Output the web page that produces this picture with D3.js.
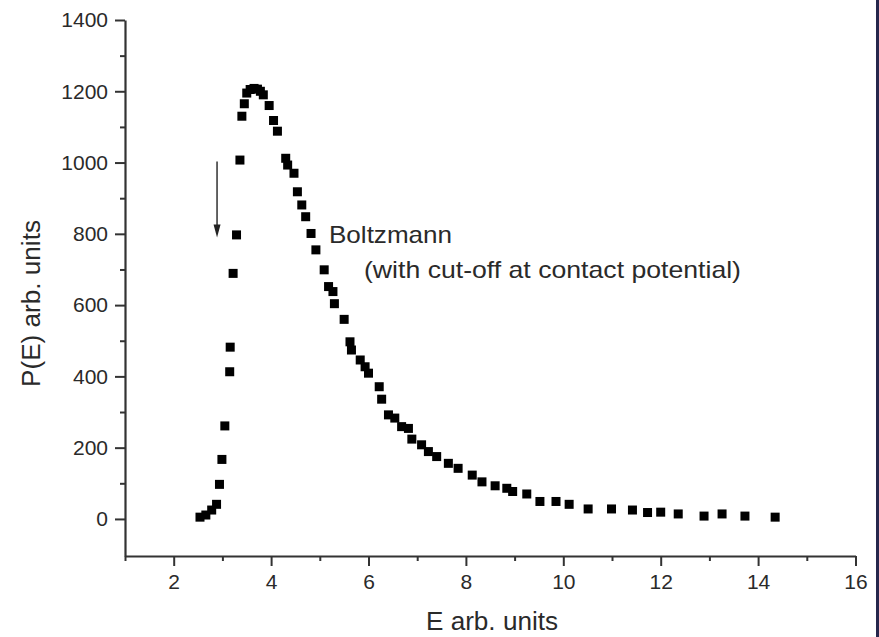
<!DOCTYPE html>
<html>
<head>
<meta charset="utf-8">
<script src="https://cdn.jsdelivr.net/npm/d3@7"></script>
<style>
  html, body { margin: 0; padding: 0; background: #ffffff; }
  svg { display: block; }
  text { font-family: "Liberation Sans", Arial, sans-serif; fill: #2a2a2a; }
</style>
</head>
<body>
<svg id="chart" width="879" height="637"></svg>
<script>
// Energy distribution samples (E, P(E)) in arbitrary units
const energy = [
  2.54, 2.66, 2.78, 2.88, 2.94, 2.99, 3.05, 3.15, 3.16, 3.22, 3.29, 3.36,
  3.40, 3.45, 3.50, 3.57, 3.65, 3.72, 3.78, 3.84, 3.96, 4.05, 4.13,
  4.30, 4.34, 4.47, 4.54, 4.63, 4.71, 4.82, 4.92, 5.09, 5.18, 5.27, 5.30,
  5.50, 5.62, 5.65, 5.83, 5.93, 6.00, 6.22, 6.27, 6.41, 6.54, 6.68, 6.82,
  6.89, 7.09, 7.23, 7.40, 7.64, 7.84, 8.13, 8.33, 8.60, 8.84, 8.96, 9.25,
  9.52, 9.85, 10.12, 10.51, 10.99, 11.42, 11.73, 12.00, 12.36, 12.89,
  13.26, 13.73, 14.35
];
const probability = [
  5, 11, 25, 41, 97, 167, 261, 413, 482, 689, 797, 1007,
  1130, 1165, 1195, 1205, 1208, 1206, 1200, 1190, 1160, 1118, 1088,
  1012, 993, 970, 918, 881, 848, 801, 755, 699, 652, 638, 604,
  560, 497, 474, 446, 427, 409, 371, 336, 292, 283, 259, 254,
  224, 208, 189, 175, 156, 142, 123, 104, 93, 86, 77, 70,
  49, 49, 41, 28, 28, 25, 18, 19, 14, 8,
  14, 8, 5
];

// Axis ticks
const xMajorTicks = [2, 4, 6, 8, 10, 12, 14, 16];
const xMinorTicks = [1, 3, 5, 7, 9, 11, 13, 15];
const yMajorTicks = [0, 200, 400, 600, 800, 1000, 1200, 1400];
const yMinorTicks = [100, 300, 500, 700, 900, 1100, 1300];

// Cut-off marker (arrow) at the contact potential
const cutoffE = 2.89;
const cutoffFrom = 1003;
const cutoffTo = 790;

const xTitle = "E arb. units";
const yTitle = "P(E) arb. units";
const curveLabel = "Boltzmann";
const curveNote = "(with cut-off at contact potential)";

const svg = d3.select("#chart");
const W = 879, H = 637;

svg.append("rect").attr("width", W).attr("height", H).attr("fill", "#ffffff");
// dark frame strip along the right edge
svg.append("rect").attr("x", 876).attr("y", 0).attr("width", 3).attr("height", H).attr("fill", "#26264c");

const x = d3.scaleLinear().domain([1, 16]).range([125, 855.5]);
const y = d3.scaleLinear().domain([-104, 1400]).range([556, 20]);

const axisColor = "#333333";
const tickFont = "21px";
const fmt = d3.format("d");

function styleAxis(g) {
  g.selectAll(".domain").attr("stroke", axisColor).attr("stroke-width", 2.2);
  g.selectAll(".tick line").attr("stroke", axisColor).attr("stroke-width", 2);
  g.selectAll(".tick text")
    .style("font-size", tickFont)
    .style("font-family", "'Liberation Sans', Arial, sans-serif")
    .attr("fill", "#2a2a2a");
}

// x axis
const gx = svg.append("g").attr("transform", `translate(0,${y(-104)})`);
gx.call(d3.axisBottom(x).tickValues(xMajorTicks).tickSize(10).tickSizeOuter(0).tickPadding(8).tickFormat(fmt));
gx.append("g").call(d3.axisBottom(x).tickValues(xMinorTicks).tickSize(5).tickSizeOuter(0).tickFormat(""))
  .select(".domain").remove();
styleAxis(gx);

// y axis
const gy = svg.append("g").attr("transform", `translate(${x(1)},0)`);
gy.call(d3.axisLeft(y).tickValues(yMajorTicks).tickSize(10).tickSizeOuter(0).tickPadding(7).tickFormat(fmt));
gy.append("g").call(d3.axisLeft(y).tickValues(yMinorTicks).tickSize(5).tickSizeOuter(0).tickFormat(""))
  .select(".domain").remove();
styleAxis(gy);

// axis titles
svg.append("text")
  .attr("x", 492).attr("y", 630)
  .attr("text-anchor", "middle")
  .style("font-size", "25px")
  .attr("textLength", 132).attr("lengthAdjust", "spacingAndGlyphs")
  .text(xTitle);

svg.append("text")
  .attr("transform", `translate(40,${303.5}) rotate(-90)`)
  .attr("text-anchor", "middle")
  .style("font-size", "25px")
  .attr("textLength", 167).attr("lengthAdjust", "spacingAndGlyphs")
  .text(yTitle);

// data points: filled squares
const size = 9;
const points = energy.map((e, i) => ({ e, p: probability[i] }));
svg.append("g").selectAll("rect")
  .data(points)
  .join("rect")
  .attr("x", d => x(d.e) - size / 2)
  .attr("y", d => y(d.p) - size / 2)
  .attr("width", size)
  .attr("height", size)
  .attr("fill", "#000000");

// cut-off arrow
const ax = x(cutoffE), ay1 = y(cutoffFrom), ay2 = y(cutoffTo);
svg.append("line")
  .attr("x1", ax).attr("x2", ax)
  .attr("y1", ay1).attr("y2", ay2 - 10)
  .attr("stroke", "#222").attr("stroke-width", 1.4);
svg.append("path")
  .attr("d", `M${ax - 3.5},${ay2 - 13} L${ax + 3.5},${ay2 - 13} L${ax},${ay2} Z`)
  .attr("fill", "#222");

// curve annotation
svg.append("text")
  .attr("x", 329).attr("y", 243)
  .style("font-size", "24px")
  .attr("textLength", 123).attr("lengthAdjust", "spacingAndGlyphs")
  .text(curveLabel);
svg.append("text")
  .attr("x", 364).attr("y", 278)
  .style("font-size", "24px")
  .attr("textLength", 377).attr("lengthAdjust", "spacingAndGlyphs")
  .text(curveNote);
</script>
</body>
</html>
